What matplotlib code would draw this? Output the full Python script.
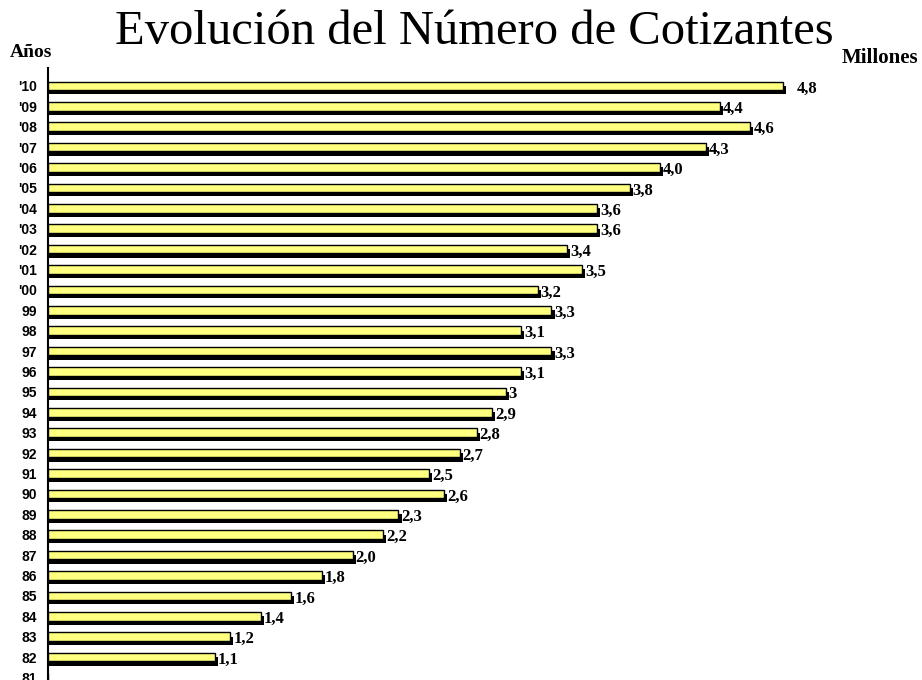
import matplotlib
matplotlib.use('Agg')
import matplotlib.pyplot as plt
import numpy as np

# años, de abajo (81) hacia arriba ('10)
years = ['81', '82', '83', '84', '85', '86', '87', '88', '89', '90',
         '91', '92', '93', '94', '95', '96', '97', '98', '99', "'00",
         "'01", "'02", "'03", "'04", "'05", "'06", "'07", "'08", "'09", "'10"]
values = [0, 1.09, 1.19, 1.39, 1.59, 1.79, 1.99, 2.19, 2.29, 2.59,
          2.49, 2.69, 2.80, 2.90, 2.99, 3.09, 3.29, 3.09, 3.29, 3.20,
          3.49, 3.39, 3.59, 3.59, 3.80, 4.00, 4.30, 4.59, 4.39, 4.80]
labels = ['', '1,1', '1,2', '1,4', '1,6', '1,8', '2,0', '2,2', '2,3', '2,6',
          '2,5', '2,7', '2,8', '2,9', '3', '3,1', '3,3', '3,1', '3,3', '3,2',
          '3,5', '3,4', '3,6', '3,6', '3,8', '4,0', '4,3', '4,6', '4,4', '4,8']


def create_plot():
    fig = plt.figure(figsize=(9.22, 6.8), dpi=100)
    ax = fig.add_axes([48 / 922, 0, 857 / 922, 0.9])
    y = np.arange(len(years))
    vals = np.array(values)

    # sombra negra desplazada
    ax.barh(y - 0.2, np.where(vals > 0, vals + 0.02, 0), height=0.42,
            color='black', zorder=2)
    # barra amarilla
    ax.barh(y, vals, height=0.42, color='#ffff80', edgecolor='black',
            linewidth=1.0, zorder=3)

    for yi, v, lab in zip(y, vals, labels):
        if not lab:
            continue
        off = 0.09 if lab == '4,8' else 0.02
        ax.text(v + off, yi - 0.12, lab, ha='left', va='center',
                fontsize=12, fontweight='bold', family='Liberation Serif')

    ax.set_xlim(0, 5.6)
    ax.set_ylim(-0.12, 29.88)
    ax.set_yticks(y)
    ax.set_yticklabels(years, fontsize=10, fontweight='bold',
                       family='Liberation Sans')
    ax.tick_params(axis='y', length=0, pad=8)
    ax.set_xticks([])
    for s in ['top', 'right', 'bottom']:
        ax.spines[s].set_visible(False)
    ax.spines['left'].set_linewidth(1.5)

    fig.text(474 / 922, 1 - 44 / 680, 'Evolución del Número de Cotizantes',
             ha='center', va='baseline', fontsize=35, family='Liberation Serif')
    fig.text(10 / 922, 1 - 57 / 680, 'Años', ha='left', va='baseline',
             fontsize=14, fontweight='bold', family='Liberation Serif')
    fig.text(918 / 922, 1 - 63 / 680, 'Millones', ha='right', va='baseline',
             fontsize=15, fontweight='bold', family='Liberation Serif')

    fig.savefig('out.png', dpi=100)


if __name__ == '__main__':
    create_plot()
